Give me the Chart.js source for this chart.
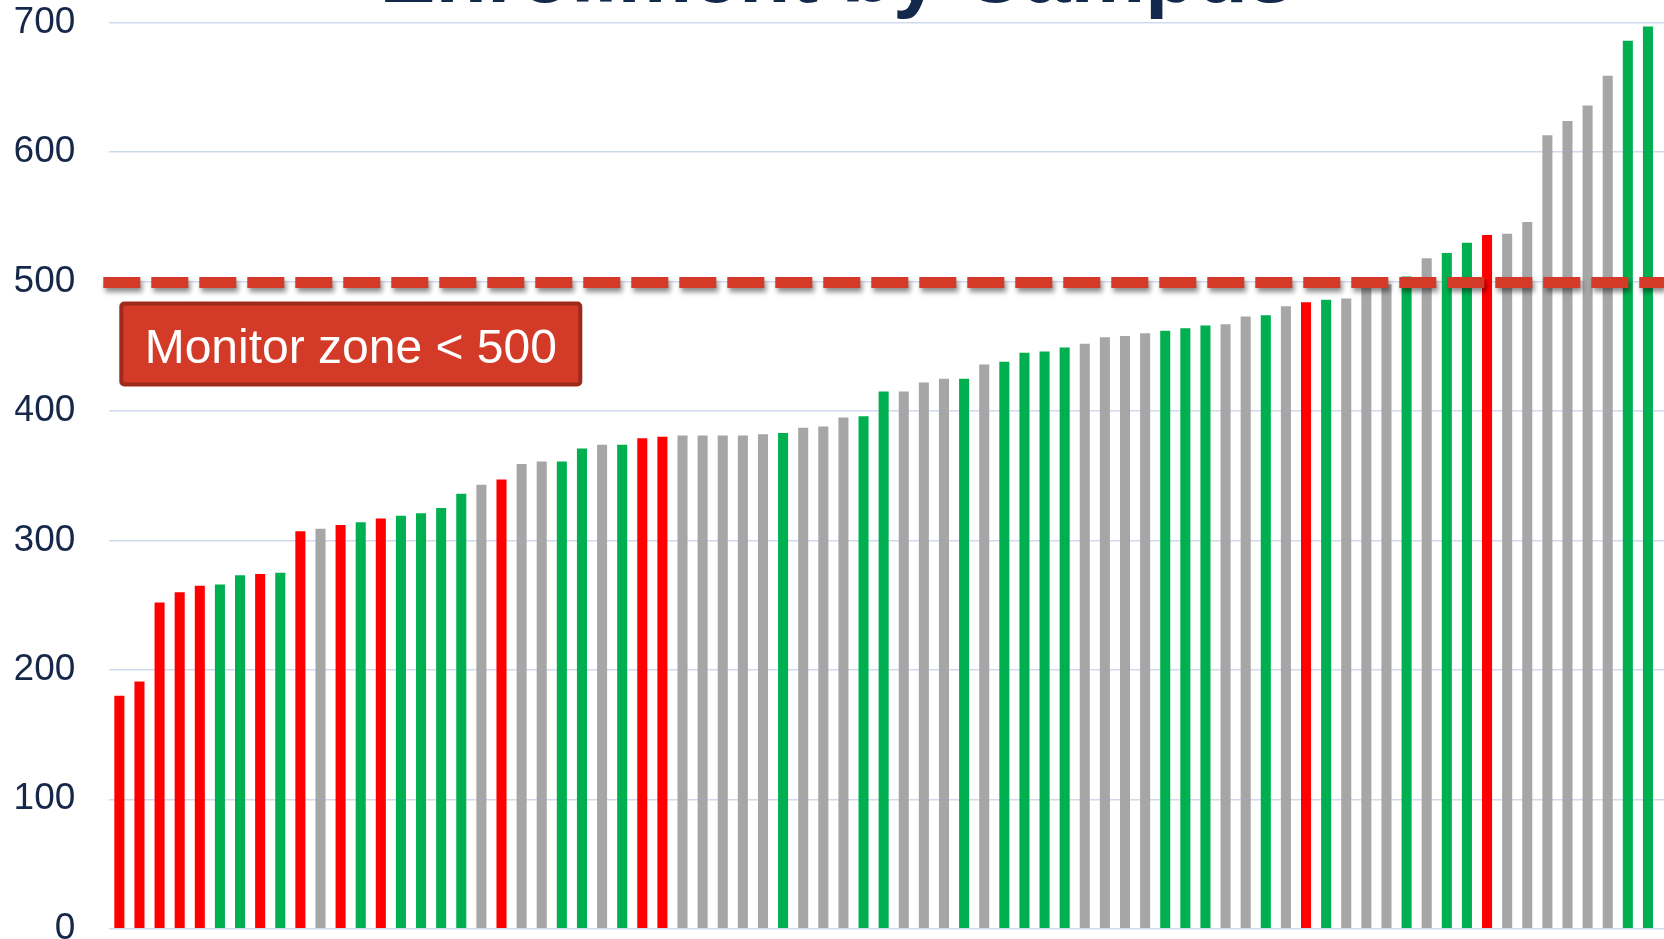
<!DOCTYPE html>
<html>
<head>
<meta charset="utf-8">
<script src="https://cdn.jsdelivr.net/npm/chart.js@4.4.1/dist/chart.umd.min.js"></script>
<style>
  html, body { margin: 0; padding: 0; background: #fff; }
  #wrap { width: 1664px; height: 939px; position: relative; overflow: hidden; }
</style>
</head>
<body>
<div id="wrap"><canvas id="graficoBarras" width="1664" height="939"></canvas></div>
<script>
const chartTitle = "Enrollment by Campus";

// one entry per campus, sorted by enrollment
const campuses = Array.from({ length: 77 }, (_, i) => `Campus ${i + 1}`);

const enrollment = [
  180, 191, 252, 260, 265, 266, 273, 274, 275, 307,
  309, 312, 314, 317, 319, 321, 325, 336, 343, 347,
  359, 361, 361, 371, 374, 374, 379, 380, 381, 381,
  381, 381, 382, 383, 387, 388, 395, 396, 415, 415,
  422, 425, 425, 436, 438, 445, 446, 449, 452, 457,
  458, 460, 462, 464, 466, 467, 473, 474, 481, 484,
  486, 487, 495, 498, 504, 518, 522, 530, 536, 537,
  546, 613, 624, 636, 659, 686, 697
];

// R = red, G = green, N = no rating (grey)
const rating = [
  "R", "R", "R", "R", "R", "G", "G", "R", "G", "R",
  "N", "R", "G", "R", "G", "G", "G", "G", "N", "R",
  "N", "N", "G", "G", "N", "G", "R", "R", "N", "N",
  "N", "N", "N", "G", "N", "N", "N", "G", "G", "N",
  "N", "N", "G", "N", "G", "G", "G", "G", "N", "N",
  "N", "N", "G", "G", "G", "N", "N", "G", "N", "R",
  "G", "N", "N", "N", "G", "N", "G", "G", "R", "N",
  "N", "N", "N", "N", "N", "G", "G"
];

const yMin = 0;
const yMax = 700;
const yStep = 100;

const threshold = 500;
const thresholdLabel = "Monitor zone < 500";

const ratingColors = { R: "#FF0000", G: "#00B050", N: "#A6A6A6" };
const gridColor = "#CFDAEF";
const fontFamily = "'Liberation Sans', Arial, sans-serif";

// dashed threshold line + callout box
const thresholdPlugin = {
  id: "threshold",
  afterDatasetsDraw(chart) {
    const { ctx, chartArea, scales: { y } } = chart;
    const py = y.getPixelForValue(threshold);

    ctx.save();
    ctx.strokeStyle = "#D33B28";
    ctx.lineWidth = 11;
    ctx.setLineDash([37, 11]);
    ctx.shadowColor = "rgba(0, 0, 0, 0.45)";
    ctx.shadowBlur = 5;
    ctx.shadowOffsetX = 2;
    ctx.shadowOffsetY = 4;
    ctx.beginPath();
    ctx.moveTo(chartArea.left - 6, py + 1);
    ctx.lineTo(chart.width, py + 1);
    ctx.stroke();
    ctx.restore();

    const bx = chartArea.left + 12;
    const by = py + 22;
    const bw = 459;
    const bh = 81;
    ctx.save();
    ctx.fillStyle = "#D33B28";
    ctx.strokeStyle = "#9E2A1C";
    ctx.lineWidth = 4;
    ctx.beginPath();
    ctx.roundRect(bx, by, bw, bh, 3);
    ctx.fill();
    ctx.stroke();
    ctx.fillStyle = "#FFFFFF";
    ctx.font = `48px ${fontFamily}`;
    ctx.textAlign = "center";
    ctx.textBaseline = "alphabetic";
    ctx.fillText(thresholdLabel, bx + bw / 2, by + 59);
    ctx.restore();
  }
};

// title sits mostly above the visible frame
const titlePlugin = {
  id: "cutTitle",
  afterDraw(chart) {
    const { ctx } = chart;
    ctx.save();
    ctx.fillStyle = "#13294B";
    ctx.font = `bold 84px ${fontFamily}`;
    ctx.textAlign = "center";
    ctx.textBaseline = "alphabetic";
    ctx.fillText(chartTitle, 837, 2);
    ctx.restore();
  }
};

new Chart(document.getElementById("graficoBarras"), {
  type: "bar",
  data: {
    labels: campuses,
    datasets: [{
      label: "Enrollment",
      data: enrollment,
      backgroundColor: rating.map(r => ratingColors[r]),
      borderWidth: 0,
      barPercentage: 0.5,
      categoryPercentage: 1
    }]
  },
  options: {
    responsive: false,
    animation: false,
    layout: { padding: { top: 22.7, bottom: 10.3, left: 15.3, right: 0 } },
    plugins: {
      legend: { display: false },
      tooltip: { enabled: false },
      title: { display: false }
    },
    scales: {
      x: { display: false },
      y: {
        min: yMin,
        max: yMax,
        ticks: {
          stepSize: yStep,
          padding: 34,
          color: "#16284A",
          font: { family: fontFamily, size: 37 }
        },
        grid: { color: gridColor, lineWidth: 1.5, drawTicks: false },
        border: { display: false },
        afterFit(scale) {
          // labels are 60px wide, then 34px gap to the plot
          scale.width = 94;
          scale.paddingTop = 0;
          scale.paddingBottom = 0;
        }
      },
      yRight: {
        position: "right",
        min: yMin,
        max: yMax,
        ticks: { display: false, stepSize: yStep },
        grid: { drawOnChartArea: false, drawTicks: true, tickLength: 6, color: gridColor, lineWidth: 1.5 },
        border: { display: false }
      }
    }
  },
  plugins: [thresholdPlugin, titlePlugin]
});
</script>
</body>
</html>
